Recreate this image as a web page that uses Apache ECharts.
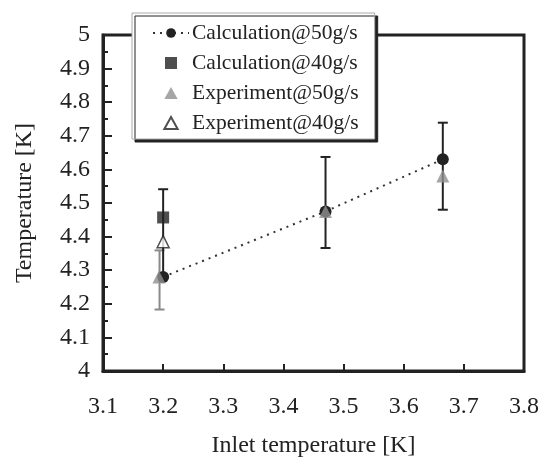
<!DOCTYPE html>
<html>
<head>
<meta charset="utf-8">
<script src="https://cdn.jsdelivr.net/npm/echarts@6/dist/echarts.min.js"></script>
<style>
  html, body { margin: 0; padding: 0; background: #fff; }
  #chart { width: 542px; height: 463px; }
</style>
</head>
<body>
<div id="chart"></div>
<script>
// 数据
const xTicks = [3.1, 3.2, 3.3, 3.4, 3.5, 3.6, 3.7, 3.8];
const yTicks = [4, 4.1, 4.2, 4.3, 4.4, 4.5, 4.6, 4.7, 4.8, 4.9, 5];

const calc50X = [3.2, 3.47, 3.665];
const calc50Y = [4.28, 4.475, 4.63];
const calc40X = [3.2];
const calc40Y = [4.457];
const exp50X = [3.193, 3.47, 3.665];
const exp50Y = [4.28, 4.475, 4.58];
const exp40X = [3.2];
const exp40Y = [4.385];

// 误差棒 [x, low, high]
const errX = [3.194, 3.2, 3.47, 3.665];
const errLow = [4.183, 4.285, 4.366, 4.48];
const errHigh = [4.359, 4.541, 4.637, 4.739];
const errColor = ["#8a8a8a", "#222", "#222", "#222"];

const zip = (xs, ys) => xs.map((x, i) => [x, ys[i]]);

(function () {
  var myChart = echarts.init(document.getElementById("chart"));
  const font = "Liberation Serif";

  function renderErr(params, api) {
    var x = api.value(0);
    var p1 = api.coord([x, api.value(1)]);
    var p2 = api.coord([x, api.value(2)]);
    var c = errColor[params.dataIndex];
    var w = 5;
    var st = { stroke: c, lineWidth: 2 };
    return {
      type: "group",
      children: [
        { type: "line", shape: { x1: p1[0], y1: p1[1], x2: p2[0], y2: p2[1] }, style: st },
        { type: "line", shape: { x1: p1[0] - w, y1: p1[1], x2: p1[0] + w, y2: p1[1] }, style: st },
        { type: "line", shape: { x1: p2[0] - w, y1: p2[1], x2: p2[0] + w, y2: p2[1] }, style: st },
      ],
    };
  }

  // 图例图标（保持比例）
  const squareIcon = "path://M0,0H10V10H0Z";
  const triIcon = "path://M5,0L10,9H0Z";

  var option = {
    animation: false,
    textStyle: { fontFamily: font },
    grid: {
      left: 103,
      right: 14,
      top: 35,
      bottom: 90,
      show: true,
      borderColor: "#222",
      borderWidth: 3,
    },
    legend: {
      orient: "vertical",
      left: 132,
      top: 13,
      padding: [9, 16, 5, 20],
      itemWidth: 36,
      itemHeight: 12,
      itemGap: 8,
      symbolKeepAspect: true,
      backgroundColor: "#fff",
      borderColor: "#aaa",
      borderWidth: 1,
      shadowColor: "#222",
      shadowBlur: 0,
      shadowOffsetX: 3,
      shadowOffsetY: 3,
      textStyle: { fontFamily: font, fontSize: 21.5, color: "#222", padding: [0, 0, 0, -2] },
      data: [
        { name: "Calculation@50g/s" },
        { name: "Calculation@40g/s", icon: squareIcon },
        { name: "Experiment@50g/s", icon: triIcon },
        { name: "Experiment@40g/s", icon: triIcon },
      ],
    },
    xAxis: {
      type: "value",
      min: xTicks[0],
      max: xTicks[xTicks.length - 1],
      interval: 0.1,
      name: "Inlet temperature [K]",
      nameLocation: "middle",
      nameGap: 63,
      nameTextStyle: { fontFamily: font, fontSize: 24, color: "#222" },
      axisLine: { lineStyle: { color: "#222", width: 3 } },
      axisTick: { inside: true, length: 7, lineStyle: { color: "#222", width: 2 } },
      axisLabel: { fontFamily: font, fontSize: 24, color: "#222", margin: 24 },
      splitLine: { show: false },
    },
    yAxis: {
      type: "value",
      min: yTicks[0],
      max: yTicks[yTicks.length - 1],
      interval: 0.1,
      name: "Temperature [K]",
      nameLocation: "middle",
      nameGap: 66,
      nameTextStyle: { fontFamily: font, fontSize: 24, color: "#222" },
      axisLine: { lineStyle: { color: "#222", width: 3 } },
      axisTick: { inside: true, length: 9, lineStyle: { color: "#222", width: 2 } },
      minorTick: { show: true, splitNumber: 2, length: 5, lineStyle: { color: "#222", width: 2 } },
      axisLabel: { fontFamily: font, fontSize: 24, color: "#222", margin: 13 },
      splitLine: { show: false },
    },
    series: [
      {
        name: "err",
        type: "custom",
        renderItem: renderErr,
        data: errX.map((x, i) => [x, errLow[i], errHigh[i]]),
        z: 1,
        silent: true,
      },
      {
        name: "Calculation@50g/s",
        type: "line",
        data: zip(calc50X, calc50Y),
        symbol: "circle",
        symbolSize: 12,
        itemStyle: { color: "#222" },
        lineStyle: { color: "#333", width: 2, type: [2, 5] },
        z: 2,
      },
      {
        name: "Calculation@40g/s",
        type: "scatter",
        data: zip(calc40X, calc40Y),
        symbol: "rect",
        symbolSize: 12,
        itemStyle: { color: "#222" },
        z: 2,
      },
      {
        name: "Experiment@50g/s",
        type: "scatter",
        data: zip(exp50X, exp50Y),
        symbol: "triangle",
        symbolSize: 13,
        itemStyle: { color: "#909090" },
        z: 3,
      },
      {
        name: "Experiment@40g/s",
        type: "scatter",
        data: zip(exp40X, exp40Y),
        symbol: "triangle",
        symbolSize: 12,
        itemStyle: { color: "#fff", borderColor: "#222", borderWidth: 1.5 },
        z: 3,
      },
    ],
  };

  myChart.setOption(option);
  window.addEventListener("resize", function () {
    myChart.resize();
  });
})();
</script>
</body>
</html>
